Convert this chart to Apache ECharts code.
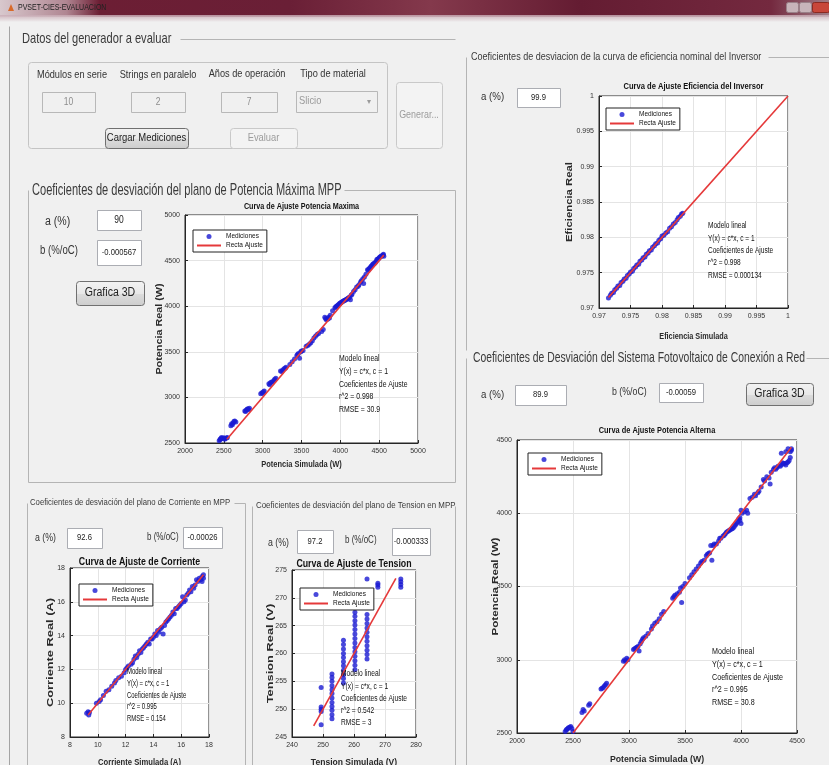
<!DOCTYPE html>
<html>
<head>
<meta charset="UTF-8">
<title>PVSET-CIES-EVALUACION</title>
<script src="https://cdn.jsdelivr.net/npm/echarts@6/dist/echarts.min.js"></script>
<style>
  html, body { margin: 0; padding: 0; background: #f0f0f0; }
  #main { width: 829px; height: 765px; }
</style>
</head>
<body>
<div id="main"></div>
<script>
// ---- datos ----
var potMaxPuntos = [
  [2440,2525],[2450,2535],[2455,2545],[2465,2550],[2470,2560],[2485,2550],[2500,2558],[2510,2540],
  [2520,2550],[2535,2555],[2545,2560],
  [2590,2690],[2600,2712],[2610,2700],[2620,2720],[2630,2735],[2640,2742],[2655,2730],
  [2770,2850],[2780,2845],[2790,2862],[2800,2870],[2810,2875],[2820,2865],[2830,2882],
  [2975,3040],[2990,3052],[3000,3045],[3010,3062],[3020,3070],
  [3080,3150],[3090,3140],[3100,3162],[3115,3168],[3130,3170],[3145,3185],[3155,3200],[3170,3210],
  [3230,3290],[3245,3285],[3260,3300],[3275,3315],[3290,3320],[3300,3330],
  [3350,3360],[3380,3390],[3410,3420],
  [3440,3460],[3450,3470],[3460,3482],[3475,3430],[3490,3500],[3500,3510],[3520,3515],
  [3560,3560],[3580,3570],[3600,3582],[3620,3600],[3640,3620],[3660,3650],[3680,3670],[3700,3690],
  [3720,3702],[3760,3722],[3780,3745],
  [3800,3880],[3810,3865],[3820,3852],[3840,3860],[3850,3880],[3860,3870],[3870,3900],[3900,3950],
  [3930,3982],[3940,3990],[3950,4000],[3960,4005],[3970,4012],[3980,4020],[3990,4030],[4000,4035],
  [4010,4040],[4020,4045],[4030,4052],[4040,4058],[4050,4062],[4060,4066],[4070,4070],[4080,4075],
  [4090,4082],[4100,4088],[4110,4092],[4120,4100],[4130,4070],[4140,4120],[4150,4130],[4170,4160],
  [4190,4180],[4210,4210],[4230,4220],[4240,4235],[4260,4262],[4270,4280],[4290,4300],[4300,4250],
  [4310,4320],[4330,4350],
  [4350,4400],[4360,4395],[4370,4410],[4380,4420],[4390,4430],[4400,4440],[4410,4450],[4420,4462],
  [4430,4465],[4440,4470],[4450,4480],[4460,4490],[4470,4512],[4480,4515],[4490,4520],[4500,4530],
  [4510,4540],[4520,4545],[4530,4550],[4540,4555],[4550,4562],[4555,4570],[4560,4548]
];
var potMaxRecta = [2540, 4560];
var potMaxTexto = ['Modelo lineal', 'Y(x) = c*x, c = 1', 'Coeficientes de Ajuste', 'r^2 = 0.998', 'RMSE = 30.9'];

var efiPuntos = [
  [0.9715,0.9714],[0.9718,0.9718],[0.9720,0.9721],[0.9723,0.9722],[0.9725,0.9726],[0.9728,0.9728],
  [0.9730,0.9731],[0.9733,0.9732],[0.9735,0.9736],[0.9738,0.9738],[0.9740,0.9741],[0.9743,0.9742],
  [0.9745,0.9746],[0.9748,0.9748],[0.9750,0.9751],[0.9753,0.9752],[0.9755,0.9756],[0.9758,0.9758],
  [0.9760,0.9761],[0.9763,0.9762],[0.9765,0.9766],[0.9768,0.9768],[0.9770,0.9771],[0.9773,0.9772],
  [0.9775,0.9776],[0.9778,0.9778],[0.9780,0.9781],[0.9783,0.9782],[0.9785,0.9786],[0.9788,0.9788],
  [0.9790,0.9791],[0.9793,0.9792],[0.9795,0.9796],[0.9798,0.9798],[0.9800,0.9802],[0.9803,0.9803],
  [0.9806,0.9806],[0.9809,0.9808],[0.9812,0.9813],[0.9815,0.9815],[0.9818,0.9819],[0.9821,0.9821],
  [0.9824,0.9825],[0.9826,0.9828],[0.9829,0.9830],[0.9831,0.9833],[0.9833,0.9834]
];
var efiRecta = [0.9715, 1];
var efiTexto = ['Modelo lineal', 'Y(x) = c*x, c = 1', 'Coeficientes de Ajuste', 'r^2 = 0.998', 'RMSE = 0.000134'];

var altPuntos = [
  [2430,2510],[2440,2520],[2445,2525],[2455,2530],[2460,2535],[2470,2540],[2480,2545],[2490,2530],[2500,2510],
  [2580,2640],[2590,2660],[2600,2650],[2640,2690],[2650,2700],
  [2750,2800],[2760,2805],[2770,2810],[2780,2820],[2790,2830],[2800,2840],
  [2950,2990],[2960,3000],[2970,2990],[2980,3010],[2990,3000],
  [3040,3070],[3050,3075],[3060,3080],[3070,3085],[3080,3090],[3090,3060],[3100,3110],[3110,3125],
  [3120,3140],[3130,3150],[3150,3160],[3170,3180],
  [3200,3210],[3210,3230],[3230,3250],[3250,3260],[3270,3280],[3290,3310],[3310,3330],
  [3390,3420],[3400,3430],[3410,3440],[3430,3450],[3450,3460],[3460,3490],[3470,3390],[3480,3500],[3500,3520],
  [3540,3560],[3560,3580],[3580,3600],[3600,3620],[3620,3640],[3640,3660],[3650,3670],[3670,3680],
  [3690,3710],[3700,3720],[3710,3725],[3720,3730],[3740,3680],[3730,3780],[3750,3780],[3760,3790],
  [3780,3790],[3800,3810],[3810,3830],[3820,3830],[3840,3845],[3850,3850],[3860,3860],[3870,3870],
  [3880,3875],[3890,3880],[3900,3885],[3910,3890],[3920,3895],[3930,3900],[3940,3910],[3950,3920],
  [3960,3930],[3970,3940],[3980,3960],[3990,3950],[3990,3970],[4000,3930],[4010,4000],[4000,4020],
  [4030,4010],[4050,4020],[4060,4000],
  [4080,4100],[4100,4110],[4120,4130],[4130,4120],[4150,4140],[4160,4150],[4180,4180],
  [4200,4230],[4210,4220],[4230,4250],[4250,4240],[4260,4200],[4270,4280],
  [4290,4300],[4300,4310],[4310,4300],[4320,4310],[4330,4320],[4350,4320],[4360,4330],[4370,4345],
  [4380,4340],[4390,4340],[4400,4330],[4410,4345],[4420,4350],[4430,4360],[4440,4380],
  [4360,4410],[4400,4420],[4420,4440],[4440,4420],[4450,4430],[4450,4440]
];
var altRecta = [2500, 4450];
var altTexto = ['Modelo lineal', 'Y(x) = c*x, c = 1', 'Coeficientes de Ajuste', 'r^2 = 0.995', 'RMSE = 30.8'];

var corrPuntos = [
  [9.2,9.4],[9.3,9.5],[9.35,9.3],[9.4,9.45],[9.9,10.0],[10.1,10.1],[10.2,10.2],[10.4,10.45],
  [10.6,10.7],[10.8,10.8],[11.0,11.0],[11.2,11.2],[11.3,11.35],
  [11.5,11.5],[11.7,11.6],[11.9,11.8],[12.0,12.0],[12.1,12.1],[12.2,12.2],[12.4,12.3],[12.5,12.4],
  [12.6,12.6],[12.7,12.8],[12.8,12.7],[12.9,12.9],[13.0,13.1],[13.1,13.0],[13.2,13.2],[13.3,13.3],
  [13.4,13.4],[13.5,13.5],[13.6,13.6],[13.7,13.5],[13.8,13.8],[13.9,13.8],[14.0,13.9],[14.1,14.1],
  [14.2,14.0],[14.3,14.3],[14.4,14.2],[14.5,14.4],[14.6,14.5],[14.8,14.6],[14.7,14.1],
  [14.9,14.8],[15.0,14.9],[15.1,15.0],[15.2,15.1],[15.3,15.2],[15.4,15.4],[15.5,15.3],
  [15.6,15.6],[15.7,15.6],[15.8,15.7],[15.9,15.8],[16.0,15.9],[16.2,16.0],[16.1,16.3],[16.4,16.4],
  [16.3,16.1],[16.5,16.5],[16.6,16.7],[16.7,16.6],[16.8,16.9],[16.9,16.8],[17.0,17.0],[17.1,17.3],
  [17.2,17.2],[17.3,17.4],[17.4,17.3],[17.5,17.5],[17.6,17.6],[17.5,17.2],[17.6,17.4]
];
var corrRecta = [9.3, 17.6];
var corrTexto = ['Modelo lineal', 'Y(x) = c*x, c = 1', 'Coeficientes de Ajuste', 'r^2 = 0.995', 'RMSE = 0.154'];

var tensionSim = [249.4, 252.9, 256.6, 260.3, 264.2, 267.7, 275.1];
var tensionReal = [
  [247.2, 249.6, 250.0, 250.4, 253.9],
  [248.3, 249.0, 249.8, 250.5, 251.2, 252.0, 252.8, 253.5, 254.2, 255.0, 255.7, 256.3],
  [254.7, 255.5, 256.2, 257.0, 257.8, 258.5, 259.3, 260.0, 260.8, 261.6, 262.4],
  [257.1, 257.9, 258.7, 259.5, 260.3, 261.1, 261.9, 262.7, 263.5, 264.3, 265.1, 265.9, 266.7, 267.4],
  [259.0, 259.8, 260.6, 261.4, 262.2, 263.0, 263.8, 264.6, 265.4, 266.2, 267.0, 273.4],
  [271.9, 272.3, 272.6],
  [271.9, 272.4, 272.9, 273.4]
];
var tensionRecta = [247, 273.5];
var tensionTexto = ['Modelo lineal', 'Y(x) = c*x, c = 1', 'Coeficientes de Ajuste', 'r^2 = 0.542', 'RMSE = 3'];

var tensionPuntos = [];
tensionSim.forEach(function (x, i) {
  tensionReal[i].forEach(function (y) { tensionPuntos.push([x, y]); });
});

// ---- graficas ----
var SANS = "'Liberation Sans', Arial, sans-serif";

var plots = [
  { title: 'Curva de Ajuste Potencia Maxima', data: potMaxPuntos, fit: potMaxRecta, notes: potMaxTexto,
    x: [2000, 5000, 500], y: [2500, 5000, 500], box: [185, 215, 233, 228],
    tY: 207, tSize: 9, tSx: 0.8,
    xName: 'Potencia Simulada (W)', xNameY: 465, xSx: 0.83,
    yName: 'Potencia Real (W)', yNameX: 160, ySize: 9, ySx: 1.2,
    legend: [193, 230], note: [339, 359, 12.7, 0.81] },
  { title: 'Curva de Ajuste Eficiencia del Inversor', data: efiPuntos, fit: efiRecta, notes: efiTexto,
    x: [0.97, 1, 0.005], y: [0.97, 1, 0.005], box: [599, 96, 189, 212],
    tY: 87, tSize: 9, tSx: 0.84,
    xName: 'Eficiencia Simulada', xNameY: 337, xSx: 0.81,
    yName: 'Eficiencia Real', yNameX: 570, ySize: 9, ySx: 1.26,
    legend: [606, 108], note: [708, 226, 12.3, 0.77] },
  { title: 'Curva de Ajuste Potencia Alterna', data: altPuntos, fit: altRecta, notes: altTexto,
    x: [2000, 4500, 500], y: [2500, 4500, 500], box: [517, 440, 280, 293],
    tY: 431, tSize: 9, tSx: 0.82,
    xName: 'Potencia Simulada (W)', xNameY: 760, xSx: 0.97,
    yName: 'Potencia Real (W)', yNameX: 495, ySize: 9.5, ySx: 1.22,
    legend: [528, 453], note: [712, 652, 12.7, 0.84] },
  { title: 'Curva de Ajuste de Corriente', data: corrPuntos, fit: corrRecta, notes: corrTexto,
    x: [8, 18, 2], y: [8, 18, 2], box: [70, 568, 139, 169],
    tY: 562, tSize: 10, tSx: 0.88,
    xName: 'Corriente Simulada (A)', xNameY: 763, xSx: 0.85,
    yName: 'Corriente Real (A)', yNameX: 50, ySize: 9.5, ySx: 1.35,
    legend: [79, 584], note: [127, 672, 11.7, 0.7] },
  { title: 'Curva de Ajuste de Tension', data: tensionPuntos, fit: tensionRecta, notes: tensionTexto,
    x: [240, 280, 10], y: [245, 275, 5], box: [292, 570, 124, 167],
    tY: 564, tSize: 10, tSx: 0.88,
    xName: 'Tension Simulada (V)', xNameY: 763, xSx: 0.95,
    yName: 'Tension Real (V)', yNameX: 270, ySize: 9.5, ySx: 1.35,
    legend: [300, 588], note: [341, 674, 12.2, 0.78] }
];

var g = [];

function rect(x, y, w, h, fill, stroke, r) {
  g.push({ type: 'rect', silent: true, shape: { x: x + 0.5, y: y + 0.5, width: w, height: h, r: r || 0 },
    style: { fill: fill || 'none', stroke: stroke || null, lineWidth: 1 } });
}
function line(x1, y1, x2, y2, color) {
  g.push({ type: 'line', silent: true, shape: { x1: x1 + 0.5, y1: y1 + 0.5, x2: x2 + 0.5, y2: y2 + 0.5 },
    style: { stroke: color || '#b4b4b4', lineWidth: 1 } });
}
// texto con compresion horizontal (sx) para imitar la fuente estrecha de MATLAB
function text(s, x, y, size, o) {
  o = o || {};
  g.push({ type: 'text', silent: true, z: o.z || 1, x: x, y: y, scaleX: o.sx || 0.8, rotation: o.rot || 0,
    style: { text: s, x: 0, y: 0, font: (o.weight || 'normal') + ' ' + size + 'px ' + SANS,
      fill: o.color || '#333', textAlign: o.align || 'left', textVerticalAlign: 'middle' } });
}
function field(x, y, w, h, val, size, off) {
  rect(x, y, w, h, off ? '#f0f0f0' : '#fff', off ? '#b8b8b8' : '#abadb3');
  text(val, x + w / 2, y + h / 2, size, { align: 'center', sx: 0.85, color: off ? '#8c8c8c' : '#222' });
}
function button(x, y, w, h, label, size, sx, off) {
  var fill = off ? '#f3f3f3' : new echarts.graphic.LinearGradient(0, 0, 0, 1, [
    { offset: 0, color: '#f3f3f3' }, { offset: 0.5, color: '#e8e8e8' },
    { offset: 0.52, color: '#dcdcdc' }, { offset: 1, color: '#cdcdcd' }]);
  rect(x, y, w, h, fill, off ? '#c9c9c9' : '#707070', 3);
  text(label, x + w / 2, y + h / 2, size, { align: 'center', sx: sx, color: off ? '#9c9c9c' : '#222' });
}

function axis(i, r) {
  return {
    gridIndex: i, type: 'value', min: r[0], max: r[1], interval: r[2],
    axisLine: { show: true, lineStyle: { color: '#262626' } },
    axisTick: { show: true, inside: true, length: 3, lineStyle: { color: '#262626' } },
    axisLabel: { fontSize: 7, fontFamily: SANS, color: '#333', margin: 5,
      formatter: function (v) { return String(+v.toFixed(4)); } },
    splitLine: { show: true, lineStyle: { color: '#e4e4e4' } }
  };
}

var grids = [], xAxes = [], yAxes = [], series = [], legends = [];

plots.forEach(function (p, i) {
  var cx = p.box[0] + p.box[2] / 2, cy = p.box[1] + p.box[3] / 2;
  grids.push({ left: p.box[0], top: p.box[1], width: p.box[2], height: p.box[3], show: true,
    backgroundColor: '#fff', borderColor: '#262626', borderWidth: 1 });
  xAxes.push(axis(i, p.x));
  yAxes.push(axis(i, p.y));
  series.push({ type: 'scatter', name: 'Mediciones', xAxisIndex: i, yAxisIndex: i, data: p.data,
    symbolSize: 5, itemStyle: { color: '#1a1ad2' }, z: 2 });
  series.push({ type: 'line', name: 'Recta Ajuste', xAxisIndex: i, yAxisIndex: i,
    data: [[p.fit[0], p.fit[0]], [p.fit[1], p.fit[1]]], symbol: 'none', showSymbol: false,
    lineStyle: { color: '#e5393a', width: 1.6 }, itemStyle: { color: '#e5393a' }, z: 3 });
  legends.push({ left: p.legend[0], top: p.legend[1], orient: 'vertical', selectedMode: false,
    data: [{ name: 'Mediciones', icon: 'circle' }, { name: 'Recta Ajuste', itemStyle: { opacity: 0 } }],
    backgroundColor: '#fff', borderColor: '#222', borderWidth: 1, padding: [3, 4, 3, 3],
    itemGap: 2, itemWidth: 24, itemHeight: 5,
    textStyle: { fontSize: 6.5, fontFamily: SANS, color: '#111' } });
  text(p.title, cx, p.tY, p.tSize, { align: 'center', weight: 'bold', sx: p.tSx, color: '#111', z: 100 });
  text(p.xName, cx, p.xNameY, 9, { align: 'center', weight: 'bold', sx: p.xSx, color: '#2a2a2a', z: 100 });
  text(p.yName, p.yNameX, cy, p.ySize, { align: 'center', weight: 'bold', sx: p.ySx, rot: Math.PI / 2,
    color: '#2a2a2a', z: 100 });
  p.notes.forEach(function (s, k) {
    text(s, p.note[0], p.note[1] + k * p.note[2], 8.5, { z: 100, sx: p.note[3], color: '#111' });
  });
});

// ---- ventana y controles ----
g.push({ type: 'rect', silent: true, shape: { x: 0, y: 0, width: 829, height: 17 },
  style: { fill: new echarts.graphic.LinearGradient(0, 0, 1, 0, [
    { offset: 0, color: '#d8c8cd' }, { offset: 0.08, color: '#b08692' }, { offset: 0.12, color: '#6c1e34' },
    { offset: 0.35, color: '#6a1f36' }, { offset: 0.52, color: '#84394c' }, { offset: 0.7, color: '#641c32' },
    { offset: 0.93, color: '#74293f' }, { offset: 1, color: '#a07c86' }]) } });
g.push({ type: 'rect', silent: true, shape: { x: 0, y: 15, width: 829, height: 7 },
  style: { fill: new echarts.graphic.LinearGradient(0, 0, 0, 1, [
    { offset: 0, color: 'rgba(200,170,180,0.8)' }, { offset: 1, color: '#f0f0f0' }]) } });
g.push({ type: 'polygon', silent: true, shape: { points: [[8, 11], [11, 4], [14, 11]] }, style: { fill: '#d86a2a' } });
text('PVSET-CIES-EVALUACION', 18, 8, 9, { color: '#222', sx: 0.78 });
rect(786, 2, 12, 10, '#c8b4ba', '#9a8088', 2);
rect(799, 2, 12, 10, '#c8b4ba', '#9a8088', 2);
rect(812, 2, 17, 10, '#c8463a', '#8a2a22', 2);

line(9, 26, 9, 765, '#a4a4a4');

// panel: datos del generador
text('Datos del generador a evaluar', 22, 39, 15, { color: '#3a3a3a', sx: 0.74 });
line(180, 39, 455, 39);
rect(28, 62, 359, 86, null, '#c4c4c4', 3);
text('Módulos en serie', 72, 75, 11.5, { align: 'center', sx: 0.8 });
text('Strings en paralelo', 158, 75, 11.5, { align: 'center', sx: 0.8 });
text('Años de operación', 247, 74, 11.5, { align: 'center', sx: 0.8 });
text('Tipo de material', 333, 74, 11.5, { align: 'center', sx: 0.8 });
field(42, 92, 53, 20, '10', 10, true);
field(131, 92, 54, 20, '2', 10, true);
field(221, 92, 56, 20, '7', 10, true);
rect(296, 91, 81, 21, '#f0f0f0', '#b8b8b8');
text('Slicio', 299, 101, 11, { color: '#9a9a9a', sx: 0.85 });
text('▾', 369, 102, 8, { color: '#9a9a9a', align: 'center', sx: 1 });
button(396, 82, 46, 66, 'Generar...', 10.5, 0.85, true);
button(105, 128, 83, 20, 'Cargar Mediciones', 11, 0.86, false);
button(230, 128, 67, 20, 'Evaluar', 11, 0.85, true);

// panel: potencia maxima
text('Coeficientes de desviación del plano de Potencia Máxima MPP', 32, 190, 17, { color: '#3a3a3a', sx: 0.65 });
line(344, 190, 455, 190);
line(28, 190, 28, 482);
line(455, 190, 455, 482);
line(28, 482, 455, 482);
text('a (%)', 45, 222, 12, { sx: 0.88 });
field(97, 210, 44, 20, '90', 10, false);
text('b (%/oC)', 40, 251, 12, { sx: 0.8 });
field(97, 240, 44, 25, '-0.000567', 9, false);
button(76, 281, 68, 24, 'Grafica 3D', 12, 0.88, false);

// panel: eficiencia del inversor
text('Coeficientes de desviacion de la curva de eficiencia nominal del Inversor', 471, 57, 11, { color: '#3a3a3a', sx: 0.82 });
line(768, 57, 829, 57);
line(466, 57, 466, 350);
text('a (%)', 481, 97, 11, { sx: 0.88 });
field(517, 88, 43, 19, '99.9', 9, false);

// panel: sistema fotovoltaico
text('Coeficientes de Desviación del Sistema Fotovoltaico de Conexión a Red', 473, 358, 15, { color: '#3a3a3a', sx: 0.69 });
line(806, 358, 829, 358);
line(466, 358, 466, 765);
text('a (%)', 481, 395, 11, { sx: 0.88 });
field(515, 385, 51, 20, '89.9', 9, false);
text('b (%/oC)', 612, 392, 11, { sx: 0.8 });
field(659, 383, 44, 19, '-0.00059', 9, false);
button(746, 383, 67, 22, 'Grafica 3D', 12, 0.88, false);

// panel: corriente
text('Coeficientes de desviación del plano de Corriente en MPP', 30, 503, 9, { color: '#3a3a3a', sx: 0.86 });
line(234, 503, 245, 503);
line(27, 503, 27, 765);
line(245, 503, 245, 765);
text('a (%)', 35, 538, 10, { sx: 0.88 });
field(67, 528, 35, 20, '92.6', 9, false);
text('b (%/oC)', 147, 537, 10, { sx: 0.8 });
field(183, 527, 39, 21, '-0.00026', 9, false);

// panel: tension
text('Coeficientes de desviación del plano de Tension en MPP', 256, 506, 9, { color: '#3a3a3a', sx: 0.88 });
line(252, 506, 252, 765);
line(455, 506, 455, 765);
text('a (%)', 268, 543, 10, { sx: 0.88 });
field(297, 530, 36, 23, '97.2', 9, false);
text('b (%/oC)', 345, 540, 10, { sx: 0.8 });
field(392, 528, 38, 27, '-0.000333', 9, false);

var chart = echarts.init(document.getElementById('main'));
chart.setOption({
  backgroundColor: '#f0f0f0',
  animation: false,
  legend: legends,
  grid: grids,
  xAxis: xAxes,
  yAxis: yAxes,
  series: series,
  graphic: { elements: g }
});
</script>
</body>
</html>
